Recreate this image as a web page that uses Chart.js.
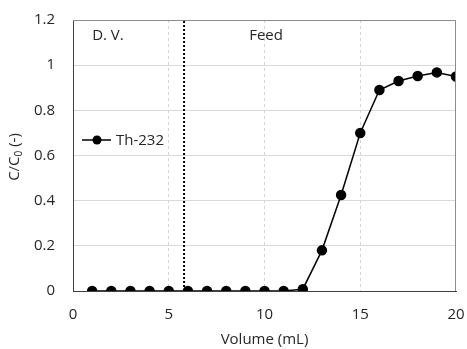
<!DOCTYPE html>
<html>
<head>
<meta charset="utf-8">
<script src="https://cdn.jsdelivr.net/npm/chart.js@4.4.1/dist/chart.umd.min.js"></script>
<style>
  html, body { margin: 0; padding: 0; background: #fff; }
  #wrap { width: 467px; height: 349px; }
</style>
</head>
<body>
<div id="wrap"><canvas id="breakthroughChart"></canvas></div>
<script>
// data
const volumes = [1, 2, 3, 4, 5, 6, 7, 8, 9, 10, 11, 12, 13, 14, 15, 16, 17, 18, 19, 20];
const th232 = [0, 0, 0, 0, 0, 0, 0, 0, 0, 0, 0, 0.008, 0.18, 0.425, 0.70, 0.89, 0.93, 0.952, 0.968, 0.95];
const switchVolume = 5.8; // D.V. -> Feed
const regionLabels = ["D. V.", "Feed"];
const regionLabelX = [1.0, 9.2];
const regionLabelY = 1.13;
const xTicks = [0, 5, 10, 15, 20];

const FONT = "'Open Sans', 'Liberation Sans', sans-serif";
const TEXT = "#262626";
const FS = 15;

// box around plot, region labels, legend and y title
const extras = {
  id: "extras",
  afterDraw(chart) {
    const { ctx, chartArea: a, scales } = chart;
    ctx.save();
    ctx.strokeStyle = "#8c8c8c";
    ctx.lineWidth = 1;
    ctx.beginPath();
    ctx.moveTo(a.left, a.top + 0.5);
    ctx.lineTo(a.right - 0.5, a.top + 0.5);
    ctx.lineTo(a.right - 0.5, a.bottom);
    ctx.stroke();

    ctx.fillStyle = TEXT;
    ctx.font = FS + "px " + FONT;
    ctx.textBaseline = "middle";
    ctx.textAlign = "left";
    regionLabels.forEach((t, i) => {
      ctx.fillText(t, scales.x.getPixelForValue(regionLabelX[i]), scales.y.getPixelForValue(regionLabelY));
    });

    // legend
    const ly = 140, lx = 82;
    ctx.strokeStyle = "#000";
    ctx.lineWidth = 1.5;
    ctx.beginPath();
    ctx.moveTo(lx, ly);
    ctx.lineTo(lx + 29, ly);
    ctx.stroke();
    ctx.fillStyle = "#000";
    ctx.beginPath();
    ctx.arc(lx + 15, ly, 4.5, 0, Math.PI * 2);
    ctx.fill();
    ctx.fillStyle = TEXT;
    ctx.fillText("Th-232", lx + 34, ly + 1);

    // y axis title with subscript
    ctx.translate(15, 157);
    ctx.rotate(-Math.PI / 2);
    const p1 = "C/C", p2 = "0", p3 = " (-)";
    ctx.font = FS + "px " + FONT;
    const w1 = ctx.measureText(p1).width, w3 = ctx.measureText(p3).width;
    ctx.font = "10px " + FONT;
    const w2 = ctx.measureText(p2).width;
    let x = -(w1 + w2 + w3) / 2;
    ctx.font = FS + "px " + FONT;
    ctx.fillText(p1, x, 0);
    x += w1;
    ctx.font = "10px " + FONT;
    ctx.fillText(p2, x, 4);
    x += w2;
    ctx.font = FS + "px " + FONT;
    ctx.fillText(p3, x, 0);
    ctx.restore();
  }
};

new Chart(document.getElementById("breakthroughChart"), {
  type: "line",
  data: {
    datasets: [
      {
        label: "Th-232",
        data: volumes.map((v, i) => ({ x: v, y: th232[i] })),
        borderColor: "#000",
        backgroundColor: "#000",
        borderWidth: 1.5,
        pointRadius: 4.5,
        pointHoverRadius: 4.5,
        tension: 0
      },
      {
        label: "switch",
        data: [{ x: switchVolume, y: 0 }, { x: switchVolume, y: 1.2 }],
        borderColor: "#000",
        borderWidth: 2,
        borderDash: [2, 2],
        pointRadius: 0
      }
    ]
  },
  options: {
    responsive: true,
    maintainAspectRatio: false,
    animation: false,
    layout: { padding: { top: 20, right: 11, left: 0, bottom: 0 } },
    plugins: {
      legend: { display: false },
      tooltip: { enabled: false }
    },
    scales: {
      x: {
        type: "linear",
        min: 0,
        max: 20,
        afterBuildTicks: (s) => { s.ticks = xTicks.map(v => ({ value: v })); },
        afterFit: (s) => { s.height = 58; s.paddingLeft = 0; s.paddingRight = 0; },
        ticks: { color: TEXT, font: { family: FONT, size: FS }, padding: 15, maxRotation: 0 },
        grid: {
          color: (c) => (c.tick && (c.tick.value === 0 || c.tick.value === 20)) ? "rgba(0,0,0,0)" : "#d4d4d4",
          drawTicks: false
        },
        border: { color: "#404040", width: 1, dash: [3, 3] },
        title: { display: true, text: "Volume (mL)", color: TEXT, font: { family: FONT, size: FS }, padding: { top: 0, bottom: 0 } }
      },
      y: {
        min: 0,
        max: 1.2,
        ticks: {
          stepSize: 0.2,
          color: TEXT,
          font: { family: FONT, size: FS },
          padding: 18,
          callback: (v) => String(Math.round(v * 10) / 10)
        },
        afterFit: (s) => { s.width = 73; s.paddingTop = 0; s.paddingBottom = 0; },
        grid: { color: "#d9d9d9", drawTicks: false },
        border: { color: "#404040", width: 1 }
      }
    }
  },
  plugins: [extras]
});
</script>
</body>
</html>
